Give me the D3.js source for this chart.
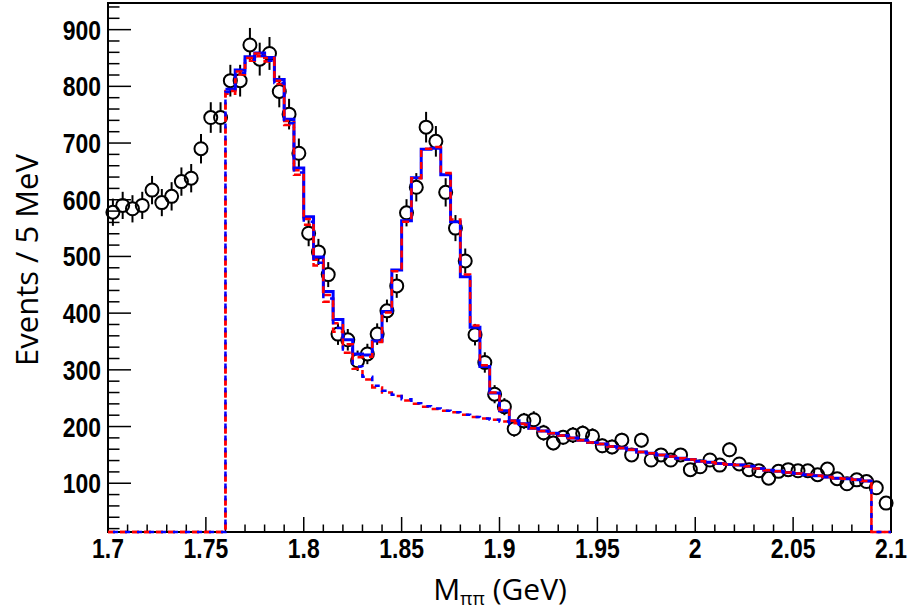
<!DOCTYPE html>
<html>
<head>
<meta charset="utf-8">
<script src="https://cdn.jsdelivr.net/npm/d3@7"></script>
<style>
  body { margin: 0; background: #fff; }
  svg { display: block; }
</style>
</head>
<body>
<div id="chart"></div>
<script>
// mass range and binning (GeV)
var massMin = 1.7,
    massMax = 2.1,
    binWidth = 0.005,
    fitLow = 1.76,
    fitHigh = 2.09;

// measured events per 5 MeV bin, 1.700 .. 2.100
var dataValues = [
    578, 590, 584, 590, 617, 595, 606, 632, 638, 690,
    745, 745, 810, 810, 873, 848, 858, 791, 751, 682,
    541, 508, 468, 363, 353, 316, 328, 363, 404, 448,
    577, 622, 728, 703, 613, 550, 492, 362, 313, 257,
    235, 196, 210, 212, 189, 171, 181, 185, 188, 183,
    166, 164, 176, 150, 176, 141, 150, 141, 150, 124,
    129, 141, 132, 159, 134, 124, 122, 109, 121, 124,
    122, 122, 115, 125, 108, 99, 106, 103, 92, 65
];
var dataErrors = [
    24, 24, 24, 24, 25, 24, 25, 25, 25, 26,
    27, 27, 28, 28, 30, 29, 29, 28, 27, 26,
    23, 23, 22, 19, 19, 18, 18, 19, 20, 21,
    24, 25, 27, 27, 25, 23, 22, 19, 18, 16,
    15, 14, 14, 15, 14, 13, 13, 14, 14, 14,
    13, 13, 13, 12, 13, 12, 12, 12, 12, 11,
    11, 12, 11, 13, 12, 11, 11, 10, 11, 11,
    11, 11, 11, 11, 10, 10, 10, 10, 10, 8
];

// fit results per bin, 1.760 .. 2.090
var fitBlue = [
    795, 829, 852, 859, 851, 812, 742, 656, 570, 499,
    438, 389, 353, 328, 326, 351, 403, 476, 563, 639,
    689, 691, 644, 561, 464, 375, 306, 259, 228, 210,
    205, 197, 192, 188, 184, 180, 176, 172, 169, 165,
    162, 159, 155, 153, 150, 147, 144, 142, 139, 137,
    135, 133, 132, 130, 126, 123, 121, 119, 117, 115,
    113, 111, 109, 108, 106, 104
];
var fitRed = [
    792, 826, 850, 858, 850, 810, 739, 652, 566, 494,
    432, 382, 345, 322, 323, 349, 401, 474, 561, 638,
    690, 693, 647, 565, 468, 378, 308, 260, 229, 210,
    205, 197, 192, 188, 184, 180, 176, 172, 169, 165,
    162, 159, 155, 153, 150, 147, 144, 142, 139, 137,
    135, 133, 132, 130, 126, 123, 121, 119, 117, 115,
    113, 111, 109, 108, 106, 104
];
var bgBlue = [
    790, 824, 847, 854, 845, 806, 735, 648, 561, 489,
    426, 374, 336, 306, 288, 272, 263, 256, 248, 241,
    236, 232, 228, 225, 221, 217, 214, 212, 209, 206,
    203, 197, 192, 188, 184, 180, 176, 172, 169, 165,
    162, 159, 155, 153, 150, 147, 144, 142, 139, 137,
    135, 133, 132, 130, 126, 123, 121, 119, 117, 115,
    113, 111, 109, 108, 106, 104
];
var bgRed = [
    787, 821, 845, 853, 844, 804, 732, 644, 556, 484,
    420, 367, 330, 302, 283, 269, 260, 254, 246, 240,
    235, 231, 228, 225, 221, 217, 214, 212, 209, 206,
    203, 197, 192, 188, 184, 180, 176, 172, 169, 165,
    162, 159, 155, 153, 150, 147, 144, 142, 139, 137,
    135, 133, 132, 130, 126, 123, 121, 119, 117, 115,
    113, 111, 109, 108, 106, 104
];

var xTicks = [1.7, 1.75, 1.8, 1.85, 1.9, 1.95, 2, 2.05, 2.1],
    yTicks = [100, 200, 300, 400, 500, 600, 700, 800, 900];

var width = 910,
    height = 616,
    frameL = 108, frameR = 891, frameT = 3, frameB = 532,
    yMin = 14, yMax = 947;

var svg = d3.select('#chart').append('svg')
    .attr('width', width)
    .attr('height', height);

var x = d3.scaleLinear().domain([massMin, massMax]).range([frameL, frameR]),
    y = d3.scaleLinear().domain([yMin, yMax]).range([frameB, frameT]);

function yc(v) { return y(Math.max(yMin, Math.min(yMax, v))); }

// step path; full = include empty bins down to the frame on both sides
function histPath(vals, full) {
    var p = d3.path(), i, x0;
    if (full) {
        p.moveTo(x(massMin), yc(0));
        p.lineTo(x(fitLow), yc(0));
        p.lineTo(x(fitLow), yc(vals[0]));
    } else {
        p.moveTo(x(fitLow), yc(vals[0]));
    }
    for (i = 0; i < vals.length; i++) {
        x0 = fitLow + i * binWidth;
        if (i > 0) p.lineTo(x(x0), yc(vals[i]));
        p.lineTo(x(x0 + binWidth), yc(vals[i]));
    }
    if (full) {
        p.lineTo(x(fitHigh), yc(0));
        p.lineTo(x(massMax), yc(0));
    }
    return p.toString();
}

// frame
svg.append('rect')
    .attr('x', frameL).attr('y', frameT)
    .attr('width', frameR - frameL).attr('height', frameB - frameT)
    .attr('fill', 'none').attr('stroke', '#000').attr('stroke-width', 2);

// ticks (drawn inside the frame, ROOT style)
var xMinor = d3.range(0, 41).map(function(i) { return massMin + i * 0.01; });
svg.append('g').selectAll('line')
    .data(xMinor)
    .enter().append('line')
    .attr('x1', function(d) { return x(d); })
    .attr('x2', function(d) { return x(d); })
    .attr('y1', frameB)
    .attr('y2', function(d, i) { return frameB - (i % 5 === 0 ? 15 : 7.5); })
    .attr('stroke', '#000').attr('stroke-width', 1.5);

var yMinor = d3.range(20, 947, 20);
svg.append('g').selectAll('line')
    .data(yMinor)
    .enter().append('line')
    .attr('y1', function(d) { return y(d); })
    .attr('y2', function(d) { return y(d); })
    .attr('x1', frameL)
    .attr('x2', function(d) { return frameL + (d % 100 === 0 ? 23 : 11.5); })
    .attr('stroke', '#000').attr('stroke-width', 1.5);

// tick labels (narrow bold face: squeeze horizontally)
svg.append('g').selectAll('text')
    .data(xTicks)
    .enter().append('text')
    .attr('transform', function(d) { return 'translate(' + x(d) + ',558) scale(0.85,1)'; })
    .attr('text-anchor', 'middle')
    .style('font-family', 'Liberation Sans, Arial, sans-serif')
    .style('font-weight', 'bold')
    .style('font-size', '27px')
    .text(function(d) { return d3.format('~g')(d); });

svg.append('g').selectAll('text')
    .data(yTicks)
    .enter().append('text')
    .attr('transform', function(d) { return 'translate(101,' + (y(d) + 10) + ') scale(0.85,1)'; })
    .attr('text-anchor', 'end')
    .style('font-family', 'Liberation Sans, Arial, sans-serif')
    .style('font-weight', 'bold')
    .style('font-size', '27px')
    .text(function(d) { return d; });

// axis titles
svg.append('text')
    .attr('transform', 'translate(38,260) rotate(-90)')
    .attr('text-anchor', 'middle')
    .style('font-family', 'Open Sans, sans-serif')
    .style('font-size', '31px')
    .text('Events / 5 MeV');

var xt = svg.append('text')
    .attr('x', 500)
    .attr('y', 600)
    .attr('text-anchor', 'middle')
    .style('font-family', 'Open Sans, sans-serif')
    .style('font-size', '30px');
xt.append('tspan').text('M');
xt.append('tspan').attr('dy', 5).style('font-size', '19px').text('ππ');
xt.append('tspan').attr('dy', -5).text(' (GeV)');

// data points with error bars
var r = 6.5;
var pts = svg.append('g');
dataValues.forEach(function(v, i) {
    var cx = x(massMin + (i + 0.5) * binWidth),
        cy = y(v),
        e = dataErrors[i];
    if (y(v - e) - cy > r) {
        pts.append('line')
            .attr('x1', cx).attr('x2', cx)
            .attr('y1', cy - r).attr('y2', y(v + e))
            .attr('stroke', '#000').attr('stroke-width', 2);
        pts.append('line')
            .attr('x1', cx).attr('x2', cx)
            .attr('y1', cy + r).attr('y2', y(v - e))
            .attr('stroke', '#000').attr('stroke-width', 2);
    }
    pts.append('circle')
        .attr('cx', cx).attr('cy', cy).attr('r', r)
        .attr('fill', 'none').attr('stroke', '#000').attr('stroke-width', 2);
});

// fit curves
svg.append('path')
    .attr('d', histPath(fitBlue, false))
    .attr('fill', 'none').attr('stroke', '#0000ff').attr('stroke-width', 3);
svg.append('path')
    .attr('d', histPath(fitRed, true))
    .attr('fill', 'none').attr('stroke', '#ff0000').attr('stroke-width', 2.5)
    .attr('stroke-dasharray', '7,5');
svg.append('path')
    .attr('d', histPath(bgRed, true))
    .attr('fill', 'none').attr('stroke', '#ff0000').attr('stroke-width', 2.5)
    .attr('stroke-dasharray', '7,5');
svg.append('path')
    .attr('d', histPath(bgBlue, true))
    .attr('fill', 'none').attr('stroke', '#0000ff').attr('stroke-width', 2.5)
    .attr('stroke-dasharray', '5,7')
    .attr('stroke-dashoffset', 7);
</script>
</body>
</html>
